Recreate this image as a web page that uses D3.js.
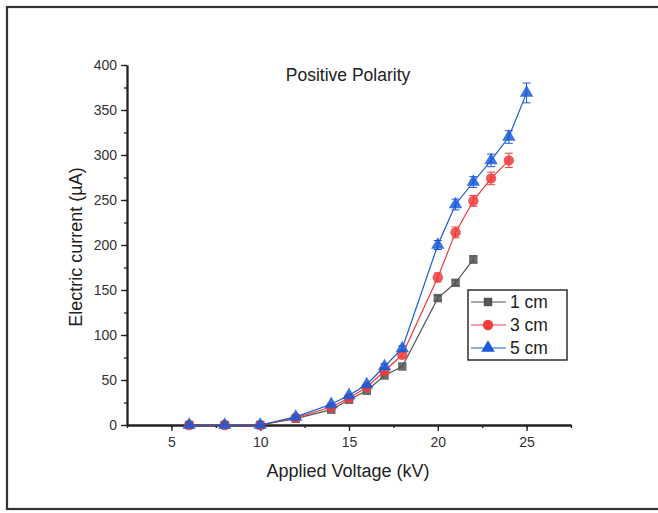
<!DOCTYPE html>
<html>
<head>
<meta charset="utf-8">
<script src="https://cdn.jsdelivr.net/npm/d3@7"></script>
<style>
  body { margin: 0; background: #fff; }
  svg { display: block; font-family: "Liberation Sans", Arial, sans-serif; }
  .tick text { font-size: 14px; fill: #333; font-family: "Liberation Sans", Arial, sans-serif; }
</style>
</head>
<body>
<svg id="chart" width="658" height="513"></svg>
<script>
// données
var volts1 = [6, 8, 10, 12, 14, 15, 16, 17, 18, 20, 21, 22];
var cur1   = [0, 0, 0, 7, 17, 28, 38, 55, 65, 141, 158, 184];
var err1   = [0, 0, 0, 1, 1, 1, 2, 2, 2, 3, 3, 4];

var volts3 = [6, 8, 10, 12, 14, 15, 16, 17, 18, 20, 21, 22, 23, 24];
var cur3   = [0, 0, 0, 8, 20, 30, 42, 60, 78, 164, 214, 249, 274, 294];
var err3   = [0, 0, 0, 1, 2, 2, 2, 3, 3, 5, 6, 6, 7, 8];

var volts5 = [6, 8, 10, 12, 14, 15, 16, 17, 18, 20, 21, 22, 23, 24, 25];
var cur5   = [0, 0, 0, 9, 23, 33, 45, 65, 85, 200, 245, 270, 294, 320, 369];
var err5   = [0, 0, 0, 1, 2, 2, 2, 3, 3, 5, 6, 6, 7, 7, 11];

var seriesNames = ["1 cm", "3 cm", "5 cm"];
var xTicks = [5, 10, 15, 20, 25];
var yTicks = [0, 50, 100, 150, 200, 250, 300, 350, 400];

(function () {
"use strict";
var svg = d3.select("#chart");

// marges du tracé (pas "top" : réservé par window)
var gauche = 127, droite = 571, haut = 65, bas = 425;
var x = d3.scaleLinear().domain([2.5, 27.5]).range([gauche, droite]);
var y = d3.scaleLinear().domain([0, 400]).range([bas, haut]);

// cadre extérieur
svg.append("rect")
  .attr("x", 7).attr("y", 7).attr("width", 660).attr("height", 502)
  .attr("fill", "none").attr("stroke", "#333").attr("stroke-width", 2.2);

// axes (ticks mineurs puis majeurs)
var gx = svg.append("g").attr("transform", "translate(0," + bas + ")");
gx.append("g").call(d3.axisBottom(x).tickValues(d3.range(2.5, 27.6, 2.5)).tickFormat("").tickSize(3).tickSizeOuter(0));
gx.append("g").call(d3.axisBottom(x).tickValues(xTicks).tickSize(6).tickSizeOuter(0).tickPadding(6));

var gy = svg.append("g").attr("transform", "translate(" + gauche + ",0)");
gy.append("g").call(d3.axisLeft(y).tickValues(d3.range(0, 401, 25)).tickFormat("").tickSize(3).tickSizeOuter(0));
gy.append("g").call(d3.axisLeft(y).tickValues(yTicks).tickSize(6).tickSizeOuter(0).tickPadding(4));

svg.selectAll(".domain").attr("stroke", "#222").attr("stroke-width", 1.8);
svg.selectAll(".tick line").attr("stroke", "#222").attr("stroke-width", 1.3);

// titres
svg.append("text").attr("x", 348).attr("y", 81).attr("text-anchor", "middle")
  .attr("fill", "#222").style("font-size", "17.5px").text("Positive Polarity");
svg.append("text").attr("x", 348).attr("y", 477).attr("text-anchor", "middle")
  .attr("fill", "#222").style("font-size", "18px").text("Applied Voltage (kV)");
svg.append("text").attr("transform", "translate(82,247) rotate(-90)").attr("text-anchor", "middle")
  .attr("fill", "#222").style("font-size", "18px").text("Electric current (µA)");

// séries
var series = [
  { name: seriesNames[0], xs: volts1, ys: cur1, es: err1, color: "#555555", shape: d3.symbolSquare, size: 72 },
  { name: seriesNames[1], xs: volts3, ys: cur3, es: err3, color: "#f03c3c", shape: d3.symbolCircle, size: 85 },
  { name: seriesNames[2], xs: volts5, ys: cur5, es: err5, color: "#1a5ad8", shape: d3.symbolTriangle, size: 78 }
];

var line = d3.line().x(d => x(d[0])).y(d => y(d[1]));

series.forEach(function (s) {
  var pts = s.xs.map((v, i) => [v, s.ys[i], s.es[i]]);
  var g = svg.append("g");
  g.append("path").attr("d", line(pts)).attr("fill", "none")
    .attr("stroke", s.color).attr("stroke-width", 1.2);
  // barres d'erreur
  var eb = g.selectAll(".eb").data(pts.filter(d => d[2] > 2)).enter().append("g");
  eb.append("line").attr("x1", d => x(d[0])).attr("x2", d => x(d[0]))
    .attr("y1", d => y(d[1] - d[2])).attr("y2", d => y(d[1] + d[2]))
    .attr("stroke", s.color).attr("stroke-width", 1);
  [-1, 1].forEach(function (k) {
    eb.append("line").attr("x1", d => x(d[0]) - 4).attr("x2", d => x(d[0]) + 4)
      .attr("y1", d => y(d[1] + k * d[2])).attr("y2", d => y(d[1] + k * d[2]))
      .attr("stroke", s.color).attr("stroke-width", 1);
  });
  g.selectAll(".m").data(pts).enter().append("path")
    .attr("d", d3.symbol().type(s.shape).size(s.size))
    .attr("transform", d => "translate(" + x(d[0]) + "," + y(d[1]) + ")")
    .attr("fill", s.color).attr("fill-opacity", 0.85);
});

// légende
var leg = svg.append("g").attr("transform", "translate(468,290)");
leg.append("rect").attr("width", 99).attr("height", 70)
  .attr("fill", "#fff").attr("stroke", "#222").attr("stroke-width", 1.4);
series.forEach(function (s, i) {
  var yy = 12 + i * 23;
  leg.append("line").attr("x1", 3).attr("x2", 38).attr("y1", yy).attr("y2", yy)
    .attr("stroke", s.color).attr("stroke-width", 1.2);
  leg.append("path").attr("d", d3.symbol().type(s.shape).size(s.size))
    .attr("transform", "translate(20," + yy + ")").attr("fill", s.color);
  leg.append("text").attr("x", 42).attr("y", yy + 6).attr("fill", "#222")
    .style("font-size", "17.5px").text(s.name);
});
})();
</script>
</body>
</html>
